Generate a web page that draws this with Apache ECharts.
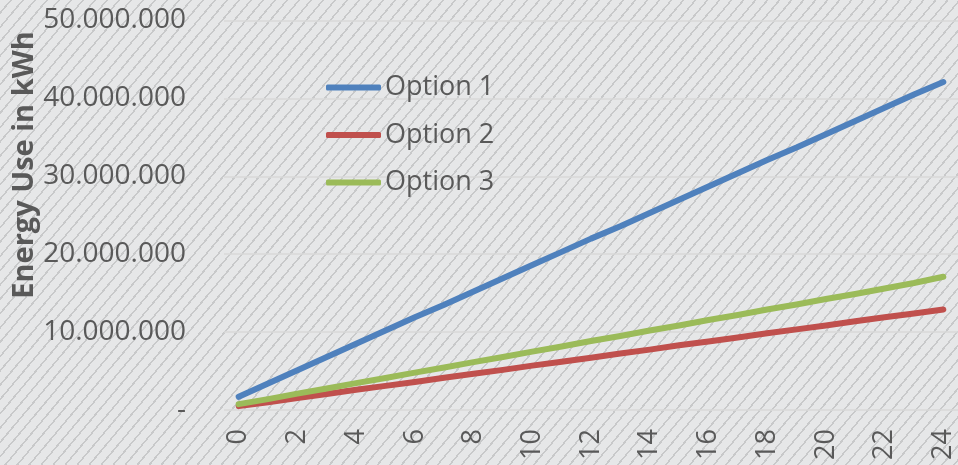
<!DOCTYPE html>
<html>
<head>
<meta charset="utf-8">
<script src="https://cdn.jsdelivr.net/npm/echarts@6/dist/echarts.min.js"></script>
<style>
  html, body { margin: 0; padding: 0; }
  #chart {
    width: 958px; height: 465px;
    background-color: #e6e7e8;
    background-image: repeating-linear-gradient(130deg, #e6e7e8 0px, #e6e7e8 7.6px, #c8c9ca 7.6px, #c8c9ca 9.2px);
  }
</style>
</head>
<body>
<div id="chart"></div>
<script>
// Categories (x axis)
var categories = ['0','1','2','3','4','5','6','7','8','9','10','11','12','13','14','15','16','17','18','19','20','21','22','23','24'];
// Series values in kWh
var option1 = [1700000, 3400000, 5100000, 6800000, 8500000, 10200000, 11900000, 13500000, 15200000, 16900000, 18600000, 20300000, 22000000, 23600000, 25300000, 27000000, 28700000, 30400000, 32100000, 33700000, 35400000, 37100000, 38800000, 40500000, 42100000];
var option2 = [500000, 1000000, 1550000, 2050000, 2600000, 3100000, 3600000, 4150000, 4650000, 5150000, 5700000, 6200000, 6700000, 7250000, 7750000, 8300000, 8800000, 9300000, 9850000, 10350000, 10850000, 11400000, 11900000, 12400000, 12900000];
var option3 = [750000, 1400000, 2100000, 2750000, 3450000, 4100000, 4800000, 5450000, 6150000, 6800000, 7500000, 8150000, 8850000, 9500000, 10200000, 10850000, 11550000, 12200000, 12900000, 13550000, 14250000, 14900000, 15600000, 16300000, 17100000];
var seriesNames = ['Option 1', 'Option 2', 'Option 3'];
var yTitle = 'Energy Use in kWh';

var chart = echarts.init(document.getElementById('chart'), null, { renderer: 'canvas' });
var FONT = '"Open Sans", sans-serif';
var TXT = '#595959';

function fmt(v) {
  if (v === 0) return '-';
  return String(Math.round(v)).replace(/\B(?=(\d{3})+(?!\d))/g, '.');
}

chart.setOption({
  backgroundColor: 'transparent',
  animation: false,
  color: ['#4f81bd', '#c0504d', '#9bbb59'],
  grid: { left: 224, right: 0, top: 20.5, bottom: 55, containLabel: false },
  legend: {
    orient: 'vertical',
    left: 326,
    top: 67.5,
    padding: 0,
    icon: 'roundRect',
    itemWidth: 55,
    itemHeight: 6,
    itemGap: 7.5,
    textStyle: { fontFamily: FONT, fontSize: 27, color: TXT, lineHeight: 40, padding: [0, 0, 0, -1] },
    data: seriesNames
  },
  graphic: [{
    type: 'text',
    x: 25, y: 165,
    rotation: Math.PI / 2,
    style: {
      text: yTitle,
      fontFamily: FONT, fontSize: 29, fontWeight: 'bold',
      fill: TXT,
      align: 'center', verticalAlign: 'middle'
    }
  }],
  xAxis: {
    type: 'category',
    data: categories,
    boundaryGap: true,
    axisLine: { show: false },
    axisTick: { show: false },
    axisLabel: {
      interval: 1,
      rotate: 90,
      margin: 19,
      fontFamily: FONT, fontSize: 27, color: TXT
    },
    splitLine: { show: false }
  },
  yAxis: {
    type: 'value',
    min: 0, max: 50000000, interval: 10000000,
    axisLine: { show: false },
    axisTick: { show: false },
    axisLabel: {
      margin: 38,
      fontFamily: FONT, fontSize: 28, color: TXT,
      formatter: fmt
    },
    splitLine: { lineStyle: { color: '#d9d9d9', width: 1.5 } }
  },
  series: [
    { name: seriesNames[0], type: 'line', data: option1, showSymbol: false, symbol: 'none',
      lineStyle: { width: 6, cap: 'round', join: 'round' } },
    { name: seriesNames[1], type: 'line', data: option2, showSymbol: false, symbol: 'none',
      lineStyle: { width: 6, cap: 'round', join: 'round' } },
    { name: seriesNames[2], type: 'line', data: option3, showSymbol: false, symbol: 'none',
      lineStyle: { width: 6, cap: 'round', join: 'round' } }
  ]
});
</script>
</body>
</html>
